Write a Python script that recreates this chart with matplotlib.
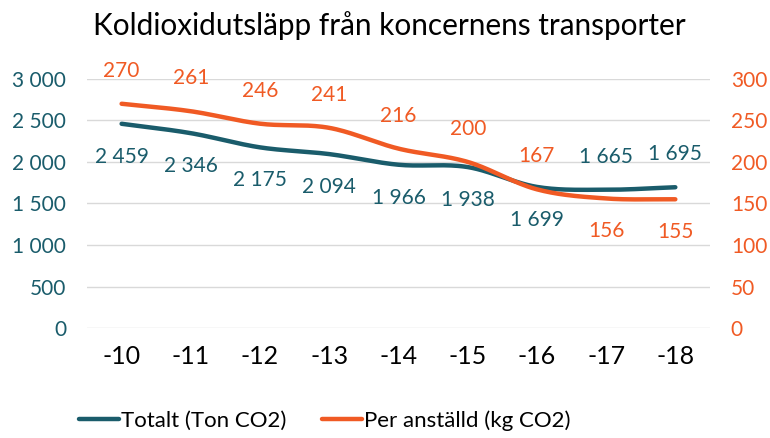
import matplotlib.pyplot as plt
import numpy as np

plt.rcParams['font.family'] = ['Lato', 'DejaVu Sans']

# data
years = ['-10', '-11', '-12', '-13', '-14', '-15', '-16', '-17', '-18']
totalt = [2459, 2346, 2175, 2094, 1966, 1938, 1699, 1665, 1695]
per_anstalld = [270, 261, 246, 241, 216, 200, 167, 156, 155]
# etikett över (+) eller under (-) punkten
tot_sida = [-1, -1, -1, -1, -1, -1, -1, 1, 1]
per_sida = [1, 1, 1, 1, 1, 1, 1, -1, -1]

teal = '#1a5c6b'
orange = '#f05a24'


def smooth(x, y, n=30):
    # catmull-rom kurva som i excel
    x = np.asarray(x, float)
    y = np.asarray(y, float)
    px = np.concatenate([[2 * x[0] - x[1]], x, [2 * x[-1] - x[-2]]])
    py = np.concatenate([[2 * y[0] - y[1]], y, [2 * y[-1] - y[-2]]])
    xs, ys = [], []
    t = np.linspace(0, 1, n)
    for i in range(1, len(px) - 2):
        for arr, a in ((ys, py), (xs, px)):
            a0, a1, a2, a3 = a[i - 1], a[i], a[i + 1], a[i + 2]
            c1 = a1 + (a2 - a0) / 6
            c2 = a2 - (a3 - a1) / 6
            arr.extend((1 - t) ** 3 * a1 + 3 * (1 - t) ** 2 * t * c1 + 3 * (1 - t) * t ** 2 * c2 + t ** 3 * a2)
    return np.array(xs), np.array(ys)


fig = plt.figure(figsize=(7.7, 4.38), dpi=100)
ax = fig.add_axes([0.113, 0.251, 0.809, 0.569])
ax2 = ax.twinx()

x = np.arange(len(years))
sx, sy = smooth(x, totalt)
ax.plot(sx, sy, color=teal, lw=3.2, solid_capstyle='round', label='Totalt (Ton CO2)')
sx2, sy2 = smooth(x, per_anstalld)
ax2.plot(sx2, sy2, color=orange, lw=3.2, solid_capstyle='round', label='Per anställd (kg CO2)')

for i, v in enumerate(totalt):
    ax.annotate(f'{v:,}'.replace(',', ' '), (x[i], v), xytext=(0, 33 * tot_sida[i]),
                textcoords='offset pixels', ha='center', va='center', color=teal, fontsize=15)
for i, v in enumerate(per_anstalld):
    ax2.annotate(str(v), (x[i], v), xytext=(0, 33 * per_sida[i]),
                 textcoords='offset pixels', ha='center', va='center', color=orange, fontsize=15)

ax.set_xlim(-0.5, len(years) - 0.5)
ax.set_ylim(0, 3000)
ax2.set_ylim(0, 300)
ax.set_yticks(range(0, 3001, 500))
ax.set_yticklabels([f'{v:,}'.replace(',', ' ') for v in range(0, 3001, 500)])
ax2.set_yticks(range(0, 301, 50))
ax.set_xticks(x)
ax.set_xticklabels(years)
ax.grid(axis='y', color='#d9d9d9', lw=1)
ax.set_axisbelow(True)
for a in (ax, ax2):
    for s in a.spines.values():
        s.set_visible(False)
ax.tick_params(axis='y', length=0, labelcolor=teal, labelsize=15, pad=15)
ax.tick_params(axis='x', length=0, labelsize=18, pad=12)
ax2.tick_params(axis='y', length=0, labelcolor=orange, labelsize=15, pad=15)

fig.suptitle('Koldioxidutsläpp från koncernens transporter', x=0.506, y=0.975, fontsize=21.4)

h1, l1 = ax.get_legend_handles_labels()
h2, l2 = ax2.get_legend_handles_labels()
fig.legend(h1 + h2, l1 + l2, loc='lower center', bbox_to_anchor=(0.422, -0.03), ncol=2,
           frameon=False, fontsize=16, handlelength=1.8, handletextpad=0.1, columnspacing=1.6)

fig.savefig('out.png', dpi=100)
